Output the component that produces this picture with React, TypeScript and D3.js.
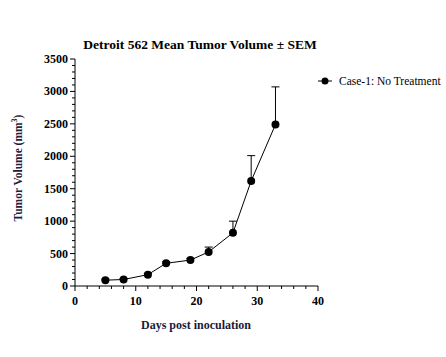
import React from "react";
import * as d3 from "d3";

const days = [5, 8, 12, 15, 19, 22, 26, 29, 33];
const meanVolume = [90, 100, 175, 350, 400, 525, 820, 1620, 2490];
const semVolume = [15, 15, 20, 25, 25, 75, 180, 390, 580];
const xTicks = [0, 10, 20, 30, 40];
const yTicks = [0, 500, 1000, 1500, 2000, 2500, 3000, 3500];
const seriesName = "Case-1: No Treatment";

export default function App() {
  const W = 446, H = 357;
  const x = d3.scaleLinear().domain([0, 40]).range([75, 318]);
  const y = d3.scaleLinear().domain([0, 3500]).range([286, 59]);
  const font = "'Liberation Serif', 'Times New Roman', serif";
  const pts = days.map((d, i) => ({ d, m: meanVolume[i], s: semVolume[i] }));
  const line = d3.line<any>().x(p => x(p.d)).y(p => y(p.m));
  const xMinor = d3.range(0, 41, 2).filter(v => v % 10 !== 0);
  const yMinor = d3.range(0, 3501, 100).filter(v => v % 500 !== 0);
  return (
    <svg width={W} height={H} style={{ position: "absolute", left: 0, top: 0, background: "#fff" }}>
      <text x={200} y={49} textAnchor="middle" fontFamily={font} fontWeight="bold" fontSize={13.5}>
        Detroit 562 Mean Tumor Volume ± SEM
      </text>
      <line x1={75} x2={75} y1={y(3500)} y2={286} stroke="#000" />
      <line x1={75} x2={318} y1={286} y2={286} stroke="#000" />
      {yTicks.map(t => (
        <g key={"y" + t}>
          <line x1={70} x2={75} y1={y(t)} y2={y(t)} stroke="#000" />
          <text x={68} y={y(t) + 4} textAnchor="end" fontFamily={font} fontWeight="bold" fontSize={12}>{t}</text>
        </g>
      ))}
      {yMinor.map(t => (
        <line key={"ym" + t} x1={72} x2={75} y1={y(t)} y2={y(t)} stroke="#000" />
      ))}
      {xTicks.map(t => (
        <g key={"x" + t}>
          <line x1={x(t)} x2={x(t)} y1={286} y2={291} stroke="#000" />
          <text x={x(t)} y={305} textAnchor="middle" fontFamily={font} fontWeight="bold" fontSize={12}>{t}</text>
        </g>
      ))}
      {xMinor.map(t => (
        <line key={"xm" + t} x1={x(t)} x2={x(t)} y1={286} y2={289} stroke="#000" />
      ))}
      <text x={196} y={329} textAnchor="middle" fontFamily={font} fontWeight="bold" fontSize={12} fill="#1a1a3a">
        Days post inoculation
      </text>
      <text transform={`translate(22,168) rotate(-90)`} textAnchor="middle" fontFamily={font} fontWeight="bold" fontSize={11.5} fill="#2a1a3a">
        Tumor Volume (mm<tspan fontSize={8} dy={-5}>3</tspan><tspan dy={5}>)</tspan>
      </text>
      {pts.map(p => (
        <g key={"e" + p.d}>
          <line x1={x(p.d)} x2={x(p.d)} y1={y(p.m)} y2={y(p.m + p.s)} stroke="#000" />
          <line x1={x(p.d) - 4} x2={x(p.d) + 4} y1={y(p.m + p.s)} y2={y(p.m + p.s)} stroke="#000" />
        </g>
      ))}
      <path d={line(pts) || ""} fill="none" stroke="#000" strokeWidth={1} />
      {pts.map(p => (
        <circle key={"c" + p.d} cx={x(p.d)} cy={y(p.m)} r={4} fill="#000" />
      ))}
      <line x1={318} x2={332} y1={81} y2={81} stroke="#000" />
      <circle cx={325} cy={81} r={3.5} fill="#000" />
      <text x={339} y={85} fontFamily={font} fontSize={11.5}>{seriesName}</text>
    </svg>
  );
}
